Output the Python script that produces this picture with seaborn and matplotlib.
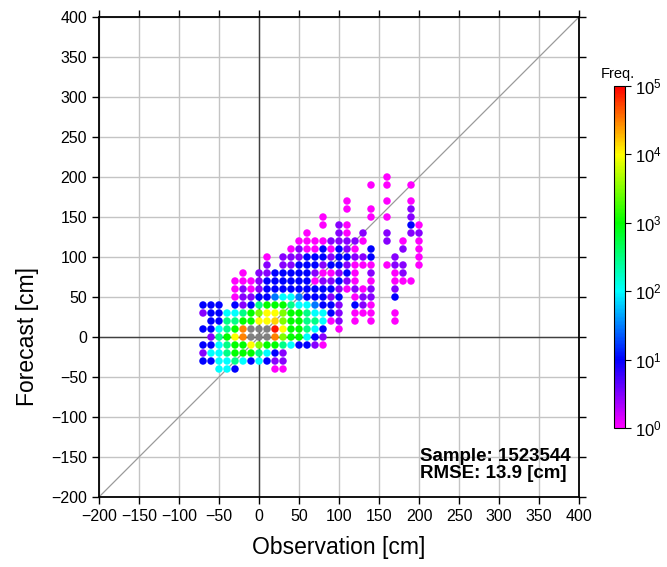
import numpy as np
import pandas as pd
import matplotlib
matplotlib.use("Agg")
import matplotlib.pyplot as plt
import seaborn as sns
from matplotlib.colors import LinearSegmentedColormap, LogNorm
from matplotlib.cm import ScalarMappable

# ---------------- data ----------------
obs_values = list(range(-70, 201, 10))          # observation bin centres [cm]
fc_values = list(range(200, -41, -10))          # forecast bin centres [cm], top row first

# estimated counts per cell; one list per forecast row, columns follow obs_values; 0 = empty
freq_rows = [
    [0,0,0,0,0,0,0,0,0,0,0,0,0,0,0,0,0,0,0,0,0,0,0,1,0,0,0,0],                       # 200
    [0,0,0,0,0,0,0,0,0,0,0,0,0,0,0,0,0,0,0,0,0,1,0,1,0,0,1,0],                       # 190
    [0,0,0,0,0,0,0,0,0,0,0,0,0,0,0,0,0,0,0,0,0,0,0,0,0,0,0,0],                       # 180
    [0,0,0,0,0,0,0,0,0,0,0,0,0,0,0,0,0,0,1,0,0,0,0,1,0,0,1,0],                       # 170
    [0,0,0,0,0,0,0,0,0,0,0,0,0,0,0,0,0,0,1,0,0,1,0,0,0,0,3,0],                       # 160
    [0,0,0,0,0,0,0,0,0,0,0,0,0,0,0,1,0,0,0,0,0,1,0,1,0,0,3,0],                       # 150
    [0,0,0,0,0,0,0,0,0,0,0,0,0,0,0,1,0,3,1,0,0,0,0,0,0,0,10,1],                      # 140
    [0,0,0,0,0,0,0,0,0,0,0,0,0,1,0,0,0,3,1,0,3,0,0,3,0,0,3,3],                       # 130
    [0,0,0,0,0,0,0,0,0,0,0,0,1,1,1,1,3,3,3,3,1,0,0,3,0,1,0,1],                       # 120
    [0,0,0,0,0,0,0,0,0,0,0,1,3,1,1,10,1,10,3,1,0,10,0,0,0,3,0,1],                    # 110
    [0,0,0,0,0,0,0,0,1,0,3,3,3,10,10,10,3,10,10,3,3,10,0,0,3,0,0,1],                 # 100
    [0,0,0,0,0,0,0,0,3,0,3,3,10,10,10,3,10,10,3,1,1,1,0,1,3,3,0,1],                  # 90
    [0,0,0,0,0,1,0,3,3,10,10,10,10,10,3,1,1,3,10,1,0,3,0,0,1,3,0,0],                 # 80
    [0,0,0,0,1,1,1,3,10,10,10,10,10,10,1,3,3,10,3,1,0,1,0,0,1,1,1,0],                # 70
    [0,0,0,0,1,3,1,3,10,10,10,10,10,10,10,10,10,3,1,3,1,3,0,0,3,0,0,0],              # 60
    [0,0,0,0,1,3,3,10,10,30,100,100,30,10,10,10,3,10,0,1,3,3,0,0,10,0,0,0],          # 50
    [10,10,10,0,10,3,10,300,1000,1000,1000,300,100,100,30,10,10,3,0,10,3,1,0,0,0,0,0,0],   # 40
    [3,10,10,100,100,300,1000,3000,10000,10000,3000,1000,1000,300,100,100,10,3,0,1,1,1,0,0,1,0,0,0],  # 30
    [0,10,10,300,300,1000,1000,10000,10000,15000,3000,1000,1000,300,300,100,1,3,0,1,0,1,0,0,1,0,0,0],  # 20
    [10,10,100,300,1000,30000,300000,300000,300000,80000,10000,1000,1000,300,100,10,0,1,0,0,0,0,0,0,0,0,0,0],  # 10
    [0,3,300,1000,10000,30000,300000,300000,300000,30000,3000,1000,1000,100,10,3,0,0,0,0,0,0,0,0,0,0,0,0],  # 0
    [10,10,100,300,1000,1000,10000,3000,1000,1000,300,100,10,10,3,1,0,0,0,0,0,0,0,0,0,0,0,0],  # -10
    [3,100,100,300,1000,1000,1000,300,100,10,3,0,0,0,0,0,0,0,0,0,0,0,0,0,0,0,0,0],             # -20
    [10,10,100,100,300,100,10,100,10,3,3,0,0,0,0,0,0,0,0,0,0,0,0,0,0,0,0,0],                   # -30
    [0,0,100,100,10,0,0,0,0,1,1,0,0,0,0,0,0,0,0,0,0,0,0,0,0,0,0,0],                            # -40
]

sample_size = 1523544
rmse_cm = 13.9
cbar_ticks = [1e0, 1e1, 1e2, 1e3, 1e4, 1e5]
axis_ticks = list(range(-200, 401, 50))

# ---------------- build long table ----------------
recs = []
for fc, row in zip(fc_values, freq_rows):
    for ob, f in zip(obs_values, row):
        if f > 0:
            recs.append((ob, fc, f))
df = pd.DataFrame(recs, columns=["obs", "fc", "freq"])

# ---------------- style ----------------
plt.rcParams["font.family"] = ["Liberation Sans", "DejaVu Sans"]
plt.rcParams["mathtext.default"] = "regular"

cmap = LinearSegmentedColormap.from_list(
    "gmt_rainbow",
    [(0.0, "#ff00ff"), (0.2, "#0000ff"), (0.4, "#00ffff"),
     (0.6, "#00ff00"), (0.8, "#ffff00"), (1.0, "#ff0000")])
cmap.set_over("#808080")
cmap.set_under("#ff00ff")
norm = LogNorm(vmin=1, vmax=1e5)

fig = plt.figure(figsize=(6.67, 5.67), dpi=100)
ax = fig.add_axes([99/667, 1-497/567, 480/667, 480/567])

ax.set_xlim(-200, 400)
ax.set_ylim(-200, 400)
ax.set_xticks(axis_ticks)
ax.set_yticks(axis_ticks)
ax.grid(True, color="#c4c4c4", lw=1.0, zorder=0)
ax.set_axisbelow(True)
ax.axhline(0, color="#404040", lw=1.0, zorder=1)
ax.axvline(0, color="#404040", lw=1.0, zorder=1)
ax.plot([-200, 400], [-200, 400], color="#9a9a9a", lw=0.9, zorder=1)

sns.scatterplot(data=df, x="obs", y="fc", hue="freq", hue_norm=norm,
                palette=cmap, s=29, linewidth=0, edgecolor="none",
                legend=False, ax=ax, zorder=3)

for sp in ax.spines.values():
    sp.set_linewidth(1.3)
    sp.set_color("black")
ax.tick_params(axis="both", which="major", direction="out", length=5, width=1,
               labelsize=11.5, top=True, right=True, color="black")
ax.set_xlabel("Observation [cm]", fontsize=16.5, labelpad=9)
ax.set_ylabel("Forecast [cm]", fontsize=16.5)
ax.yaxis.set_label_coords(-0.125, 0.335)

ax.text(201, -139, f"Sample: {sample_size}\nRMSE: {rmse_cm} [cm]",
        fontsize=13.5, fontweight="bold", ha="left", va="top",
        linespacing=1.0, zorder=4)

# colorbar
cax = fig.add_axes([614/667, 1-428/567, 11/667, 342/567])
sm = ScalarMappable(norm=norm, cmap=cmap)
cb = fig.colorbar(sm, cax=cax, ticks=cbar_ticks)
cb.ax.set_yticklabels([f"$10^{{{int(np.log10(t))}}}$" for t in cbar_ticks])
cb.ax.tick_params(labelsize=12, length=4, width=0.8, direction="out")
cb.ax.minorticks_off()
cb.outline.set_linewidth(0.8)
fig.text(618/667, 1-74/567, "Freq.", fontsize=10.5, ha="center", va="center")

fig.savefig("out.png", dpi=100)
